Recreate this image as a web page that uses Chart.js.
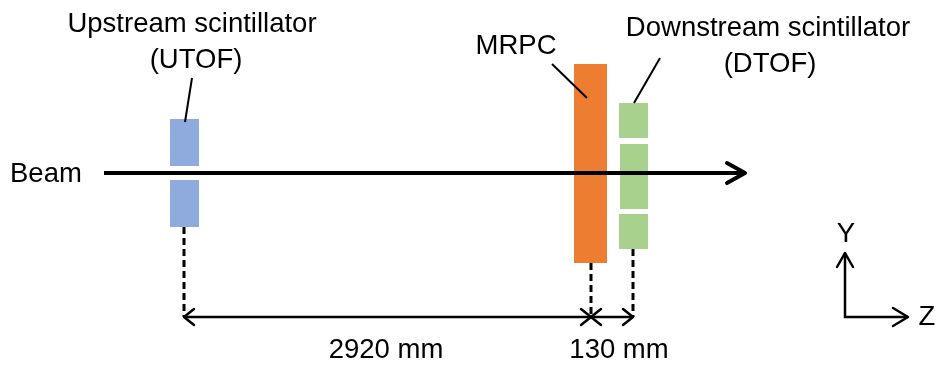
<!DOCTYPE html>
<html>
<head>
<meta charset="utf-8">
<script src="https://cdn.jsdelivr.net/npm/chart.js@4"></script>
<style>
  body { margin: 0; background: #fff; }
  #wrap { width: 941px; height: 369px; }
</style>
</head>
<body>
<div id="wrap"><canvas id="myChart"></canvas></div>
<script>
// diagram units: z runs left to right, y runs top to bottom
// detector boxes as [z0, z1, y0, y1]
const utofBoxes = [[170, 199, 119, 166], [170, 199, 180, 227]]
const mrpcBoxes = [[574, 607, 64, 263]]
const dtofBoxes = [[619, 648, 103, 138], [620, 648, 144, 209], [619, 648, 214, 249]]

// beam
const beamLine = [[104, 173], [745, 173]]
const beamHead = [[727, 163], [745, 173], [727, 183]]

// pointer lines from labels to detectors
const pointers = [
    [[192, 78], [185, 122]],
    [[552, 64], [587, 98]],
    [[660, 58], [634, 103]]
]

// dashed drop lines
const drops = [
    [[184, 227], [184, 317]],
    [[591, 263], [591, 317]],
    [[633, 249], [633, 317]]
]

// distance arrows
const dimLines = [
    [[184, 317], [591, 317]],
    [[591, 317], [633, 317]]
]
const dimHeads = [
    [[194, 309], [184, 317], [194, 325]],
    [[581, 309], [591, 317], [581, 325]],
    [[601, 309], [591, 317], [601, 325]],
    [[623, 309], [633, 317], [623, 325]]
]

// coordinate axes
const axisLines = [[[845, 253], [845, 317], [908, 317]]]
const axisHeads = [
    [[837, 267], [845, 253], [853, 267]],
    [[893, 308], [908, 317], [893, 326]]
]

const labels = [
    { text: 'Upstream scintillator', z: 192, y: 32 },
    { text: '(UTOF)', z: 196, y: 68 },
    { text: 'Beam', z: 10, y: 182, align: 'left' },
    { text: 'MRPC', z: 516, y: 54 },
    { text: 'Downstream scintillator', z: 768, y: 36 },
    { text: '(DTOF)', z: 770, y: 72 },
    { text: '2920 mm', z: 386, y: 358 },
    { text: '130 mm', z: 619, y: 358 },
    { text: 'Y', z: 846, y: 242 },
    { text: 'Z', z: 927, y: 325 }
]

const datasets = []

function addBoxes(boxes, color) {
    boxes.forEach(b => {
        datasets.push({
            data: [{ x: b[0], y: b[2] }, { x: b[1], y: b[2] }],
            fill: '+1',
            backgroundColor: color,
            borderColor: 'transparent',
            borderWidth: 0,
            order: 3
        })
        datasets.push({
            data: [{ x: b[0], y: b[3] }, { x: b[1], y: b[3] }],
            fill: false,
            borderColor: 'transparent',
            borderWidth: 0,
            order: 3
        })
    })
}

function addLines(lines, width, dash, join) {
    lines.forEach(l => {
        datasets.push({
            data: l.map(p => ({ x: p[0], y: p[1] })),
            borderColor: '#000',
            borderWidth: width,
            borderDash: dash || [],
            borderJoinStyle: join || 'miter',
            borderCapStyle: join ? 'round' : 'butt',
            fill: false,
            order: 1
        })
    })
}

addBoxes(utofBoxes, '#8faadc')
addBoxes(mrpcBoxes, '#ed7d31')
addBoxes(dtofBoxes, '#a9d18e')

addLines([beamLine], 4)
addLines([beamHead], 4, null, 'round')
addLines(pointers, 2)
addLines(drops, 3, [7, 4])
addLines(dimLines, 2.5)
addLines(dimHeads, 2.5, null, 'round')
addLines(axisLines, 2.5)
addLines(axisHeads, 2.5, null, 'round')

const textPlugin = {
    id: 'texts',
    afterDatasetsDraw(chart) {
        const ctx = chart.ctx
        const xs = chart.scales.x
        const ys = chart.scales.y
        ctx.save()
        ctx.font = '27.5px "Liberation Sans", Arial, sans-serif'
        ctx.fillStyle = '#000'
        ctx.textBaseline = 'alphabetic'
        labels.forEach(t => {
            ctx.textAlign = t.align || 'center'
            ctx.fillText(t.text, xs.getPixelForValue(t.z), ys.getPixelForValue(t.y))
        })
        ctx.restore()
    }
}

const ctx = document.getElementById('myChart')

new Chart(ctx, {
    type: 'scatter',
    data: { datasets: datasets.map(d => Object.assign({ showLine: true, pointRadius: 0, pointHoverRadius: 0 }, d)) },
    options: {
        responsive: true,
        maintainAspectRatio: false,
        animation: false,
        layout: { padding: 0 },
        plugins: {
            legend: { display: false },
            tooltip: { enabled: false }
        },
        scales: {
            x: { type: 'linear', min: 0, max: 941, display: false },
            y: { type: 'linear', min: 0, max: 369, reverse: true, display: false }
        }
    },
    plugins: [textPlugin]
});
</script>
</body>
</html>
